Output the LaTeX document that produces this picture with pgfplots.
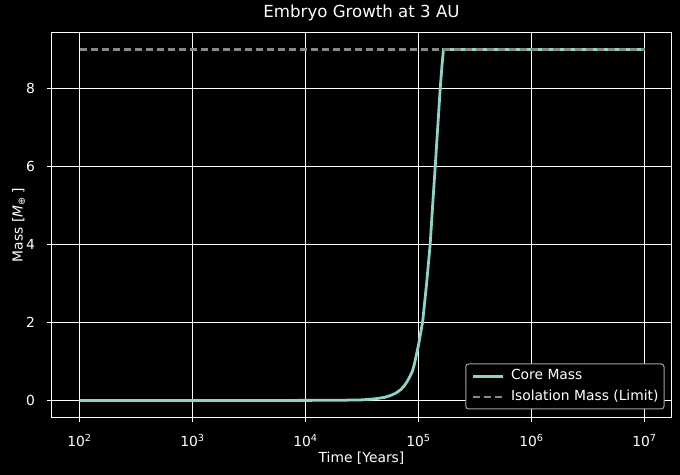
\documentclass[border=0pt]{standalone}
\usepackage{fontspec}
\setmainfont{DejaVu Sans}
\usepackage{pgfplots}
\usepackage{pgfplotstable}
\pgfplotsset{compat=1.18}

\definecolor{coremass}{HTML}{8DD3C7}
\definecolor{isoline}{RGB}{136,136,136}
\definecolor{legedge}{RGB}{163,163,163}

% core mass of the embryo vs time (years, Earth masses)
\pgfplotstableread{
t        M
100      0.000
1000     0.000
10000    0.003
19953    0.006
31623    0.016
40365    0.040
50119    0.080
56754    0.130
63096    0.190
69663    0.280
74989    0.380
79799    0.500
84140    0.620
88512    0.760
92257    0.950
94624    1.100
100000   1.420
104713   1.750
108893   2.030
117490   2.950
126765   4.000
133352   5.000
140605   6.000
147911   7.000
155597   8.000
161436   8.600
166341   9.000
10000000 9.000
}\coremass

\begin{document}
\begin{tikzpicture}
\fill[black] (-51.5bp,-57.5bp) rectangle (628.5bp,417.5bp);
\begin{axis}[
  at={(0,0)}, anchor=south west,
  scale only axis, width=620bp, height=385bp,
  xmode=log, log basis x=10,
  xmin=56.5026, xmax=17338357,
  ymin=-0.43590, ymax=9.43590,
  xtick={1e2,1e3,1e4,1e5,1e6,1e7},
  xticklabels={10\textsuperscript{2},10\textsuperscript{3},10\textsuperscript{4},10\textsuperscript{5},10\textsuperscript{6},10\textsuperscript{7}},
  ytick={0,2,4,6,8},
  /pgf/number format/assume math mode=true,
  axis line style={white, line width=1bp},
  grid=major,
  major grid style={white, line width=1bp},
  tick style={white, line width=1bp},
  major tick length=4.9bp, minor tick length=2.8bp,
  tick align=outside,
  xtick pos=left, ytick pos=left,
  ticklabel style={text=white, font=\fontsize{13.9}{16}\selectfont},
  xticklabel style={anchor=base, yshift=-24.2bp},
  yticklabel style={anchor=east, inner sep=0pt, xshift=-11.4bp},
  title={Embryo Growth at 3 AU},
  title style={at={(axis description cs:0.5,1)}, anchor=base, yshift=8.7bp, inner sep=0pt, text=white, font=\fontsize{16.67}{20}\selectfont},
  xlabel={Time [Years]},
  xlabel style={at={(axis description cs:0.5,0)}, anchor=base, yshift=-44.8bp, inner sep=0pt, text=white, font=\fontsize{13.9}{16}\selectfont},
  ylabel={Mass [\textit{M}\raisebox{-2.2bp}{\fontsize{9.7}{10}\selectfont ⊕} ]},
  ylabel style={at={(axis description cs:-0.0532,0.5)}, anchor=center, inner sep=0pt, text=white, font=\fontsize{13.9}{16}\selectfont},
  legend cell align=left,
  legend image code/.code={\draw[#1] (0bp,0bp) -- (30bp,0bp);},
  legend style={at={(axis description cs:1,0)}, anchor=south east, xshift=-7bp, yshift=8bp,
    fill=black, draw=legedge, line width=1bp, rounded corners=2.8bp,
    text=white, font=\fontsize{13.9}{16}\selectfont,
    inner xsep=5.5bp, inner ysep=5.25bp, row sep=6.9bp,
    nodes={inner sep=0pt, text height=10.5bp, text depth=3.3bp},
    /tikz/every odd column/.append style={column sep=7bp}},
]
\addplot[coremass, line width=2.78bp] table[x=t, y=M] {\coremass};
\addlegendentry{Core Mass}
\addplot[isoline, line width=2.08bp, dash pattern=on 7.7bp off 3.3bp] coordinates {(100,9.0) (10000000,9.0)};
\addlegendentry{Isolation Mass (Limit)}
\end{axis}
\end{tikzpicture}
\end{document}
